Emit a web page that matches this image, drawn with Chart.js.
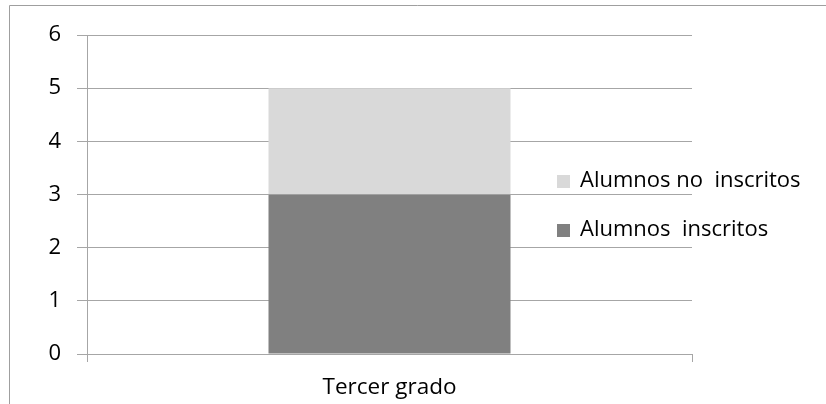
<!DOCTYPE html>
<html>
<head>
<meta charset="utf-8">
<script src="https://cdn.jsdelivr.net/npm/chart.js@4"></script>
<style>
  html, body { margin: 0; padding: 0; background: #fff; }
  #wrap { width: 826px; height: 404px; position: relative; }
</style>
</head>
<body>
<div id="wrap"><canvas id="gradoChart"></canvas></div>
<script>
const categories = ['Tercer grado'];
const inscritos = [3];
const noInscritos = [2];
const yTicks = [0, 1, 2, 3, 4, 5, 6];

const FONT = "'Open Sans', sans-serif";
const GRID = '#a6a6a6';

Chart.defaults.font.family = FONT;
Chart.defaults.color = '#000';

// outer frame (top and left edges are all that show)
const framePlugin = {
  id: 'frame',
  beforeDraw(chart) {
    const ctx = chart.ctx;
    ctx.save();
    ctx.strokeStyle = '#9f9f9f';
    ctx.lineWidth = 1;
    ctx.beginPath();
    ctx.moveTo(9.5, chart.height);
    ctx.lineTo(9.5, 5.5);
    ctx.lineTo(chart.width, 5.5);
    ctx.stroke();
    ctx.restore();
  }
};

// legend sits over the right part of the plot, last series on top like Excel
const sideLegend = {
  id: 'sideLegend',
  afterDraw(chart) {
    const ctx = chart.ctx;
    const sets = chart.data.datasets.slice().reverse();
    const x = chart.chartArea.right - 135;
    const rows = [181, 230];
    ctx.save();
    ctx.font = '22px ' + FONT;
    ctx.textBaseline = 'middle';
    sets.forEach((ds, i) => {
      ctx.fillStyle = ds.backgroundColor;
      ctx.fillRect(x, rows[i] - 6, 13, 13);
      ctx.fillStyle = '#000';
      ctx.fillText(ds.label, x + 23, rows[i]);
    });
    ctx.restore();
  }
};

const ctx = document.getElementById('gradoChart');
new Chart(ctx, {
  type: 'bar',
  data: {
    labels: categories,
    datasets: [
      { label: 'Alumnos  inscritos', data: inscritos, backgroundColor: '#808080' },
      { label: 'Alumnos no  inscritos', data: noInscritos, backgroundColor: '#d9d9d9' }
    ]
  },
  options: {
    responsive: true,
    maintainAspectRatio: false,
    animation: false,
    categoryPercentage: 1,
    barPercentage: 0.4,
    layout: { padding: { left: 9, top: 35, right: 134, bottom: 0 } },
    plugins: {
      legend: { display: false },
      tooltip: { enabled: false }
    },
    scales: {
      x: {
        stacked: true,
        offset: true,
        grid: { display: true, offset: true, drawOnChartArea: false, drawTicks: true, tickLength: 8, color: GRID },
        border: { color: GRID },
        ticks: { font: { size: 22.5 }, padding: 12, color: '#000' },
        afterFit(scale) { scale.height = 50; }
      },
      y: {
        stacked: true,
        min: yTicks[0],
        max: yTicks[yTicks.length - 1],
        grid: { color: GRID, tickLength: 10 },
        border: { color: GRID },
        ticks: { stepSize: 1, font: { size: 22 }, padding: 16, color: '#000' },
        afterFit(scale) { scale.width = 78; }
      }
    }
  },
  plugins: [framePlugin, sideLegend]
});
</script>
</body>
</html>
